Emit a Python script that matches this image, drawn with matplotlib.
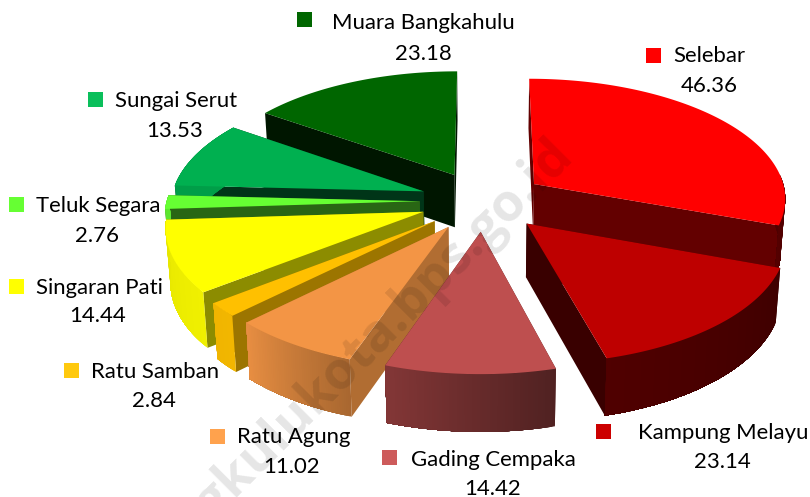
import numpy as np
import matplotlib
matplotlib.use("Agg")
import matplotlib.pyplot as plt
from matplotlib.colors import to_rgb
from matplotlib.patches import Polygon, Rectangle

# ------------------ DATA ------------------
names = ["Selebar", "Kampung Melayu", "Gading Cempaka", "Ratu Agung", "Ratu Samban",
         "Singaran Pati", "Teluk Segara", "Sungai Serut", "Muara Bangkahulu"]
values = [46.36, 23.14, 14.42, 11.02, 2.84, 14.44, 2.76, 13.53, 23.18]

# ------------------ STYLE ------------------
top_colors = ["#FF0000", "#BE0000", "#BE4F4F", "#F39545", "#FFC000",
              "#FFFF00", "#66FF33", "#00B050", "#006600"]
key_colors = ["#FF0000", "#CC0000", "#CD5B5B", "#FFA24D", "#FFC90E",
              "#FFFF00", "#66FF33", "#0ABF5B", "#006600"]
cut_shade = [0.39, 0.30, 0.45, 0.73, 0.61, 0.55, 0.40, 0.30, 0.22]
draw_order = [8, 0, 7, 6, 5, 4, 3, 1, 2]

# label layout: key square x/y, name left x/y, value centre x/y (pixels)
key_xy = [(646, 48), (596, 424), (382, 450), (210, 429), (64, 363),
          (9, 279), (9, 197), (88, 92), (297, 12)]
name_xy = [(673, 56), (638, 433), (411, 460), (237, 437), (91, 372),
           (36, 288), (36, 206), (115, 101), (332, 23)]
value_xy = [(709, 86), (722, 462), (493, 489), (292, 467), (154, 401),
            (98, 316), (97, 236), (175, 131), (423, 54)]

# pie projection
CX, CY = 483, 201
RX, RY = 253, 120
PERSP = 0.107
DEPTH = 53
BOTTOM_SHRINK = 0.985
EXPLODE = 0.25


def project(u, v, bottom=False):
    w = 1 / (1 + PERSP * v)
    x = RX * u * w
    y = CY - RY * v * w
    if bottom:
        return CX + x * BOTTOM_SHRINK, y + DEPTH * w ** 0.6
    return CX + x, y


def rim_shade(theta):
    return np.interp(theta, [90, 165, 199, 225, 270], [0.30, 0.42, 0.69, 0.95, 0.90])


def darker(color, k):
    return tuple(c * k for c in to_rgb(color))


fig = plt.figure(figsize=(8.1, 4.97), dpi=100)
ax = fig.add_axes([0, 0, 1, 1])
ax.set_xlim(0, 810)
ax.set_ylim(497, 0)
ax.axis("off")

edges = np.concatenate([[0], np.cumsum(values)]) / np.sum(values) * 360


def add_poly(pts, color, zorder):
    ax.add_patch(Polygon(pts, closed=True, facecolor=color, edgecolor="none",
                         linewidth=0, zorder=zorder))


# ------------------ SLICES ------------------
for rank, i in enumerate(draw_order):
    a0, a1 = edges[i], edges[i + 1]
    mid = np.radians((a0 + a1) / 2)
    ou, ov = EXPLODE * np.sin(mid), EXPLODE * np.cos(mid)
    thetas = np.linspace(a0, a1, max(int(a1 - a0), 2) * 2 + 1)
    rad = np.radians(thetas)
    us = ou + np.sin(rad)
    vs = ov + np.cos(rad)
    top = np.column_stack(project(us, vs))
    bot = np.column_stack(project(us, vs, bottom=True))
    apex_top = project(ou, ov)
    apex_bot = project(ou, ov, bottom=True)
    z = 2 + rank

    # the two cut faces
    cut = darker(top_colors[i], cut_shade[i])
    add_poly([apex_top, top[0], bot[0], apex_bot], cut, z)
    add_poly([apex_top, top[-1], bot[-1], apex_bot], cut, z)

    # outer wall, only the part facing the viewer; each strip runs to the end
    # of the wall so the next one paints over it and no seams show
    for k in range(len(thetas) - 1):
        if 85 < thetas[k] < 275:
            shade = rim_shade((thetas[k] + thetas[k + 1]) / 2)
            pts = np.vstack([top[k:], bot[k:][::-1]])
            add_poly(pts, darker(top_colors[i], shade), z)

    add_poly(np.vstack([[apex_top], top]), top_colors[i], z)

# ------------------ LABELS ------------------
for i in range(len(names)):
    ax.add_patch(Rectangle(key_xy[i], 14.5, 14.5, facecolor=key_colors[i], edgecolor="none", zorder=20))
    ax.text(name_xy[i][0], name_xy[i][1], names[i], family="Lato", fontsize=15.9,
            color="black", ha="left", va="center", zorder=21)
    ax.text(value_xy[i][0], value_xy[i][1], f"{values[i]:.2f}", family="Lato", fontsize=15.9,
            color="black", ha="center", va="center", zorder=21)

# ------------------ WATERMARK ------------------
ax.text(350, 362, "bengkulukota.bps.go.id", family="Open Sans", fontsize=37.5, fontweight="bold",
        color="black", alpha=0.10, rotation=45, rotation_mode="anchor",
        ha="center", va="center", zorder=30)

fig.savefig("out.png", dpi=100)
